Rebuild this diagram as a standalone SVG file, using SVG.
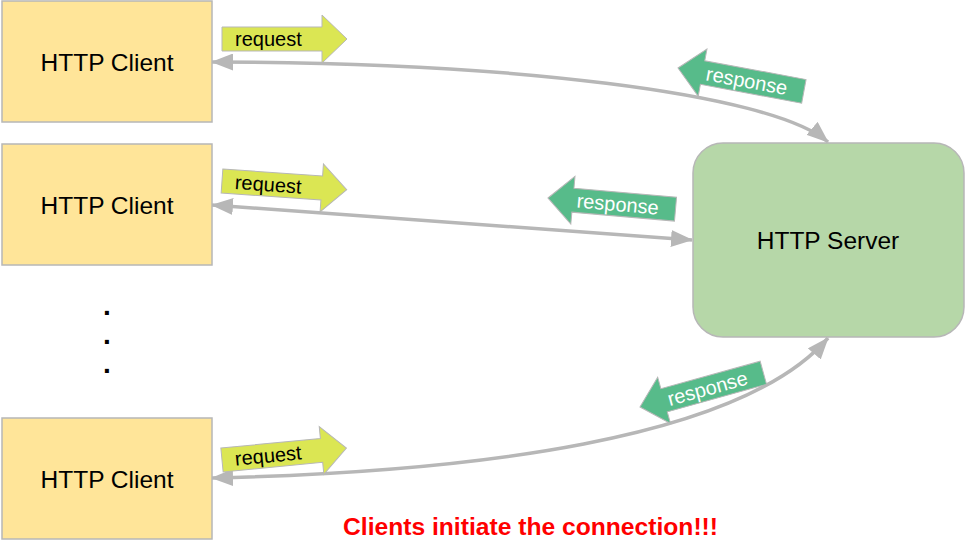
<svg xmlns="http://www.w3.org/2000/svg" width="965" height="541" viewBox="0 0 965 541">
  <defs>
    <style>
      .client { fill: #ffe599; stroke: #b7b7b7; stroke-width: 1.5; }
      .server { fill: #b6d7a8; stroke: #b7b7b7; stroke-width: 1.5; }
      .node-text { font-family: "Liberation Sans", Arial, sans-serif; font-size: 24.5px; fill: #000; text-anchor: middle; }
      .link { fill: none; stroke: #b7b7b7; stroke-width: 3.5; marker-start: url(#head); marker-end: url(#head); }
      .req { fill: #dbe653; stroke: #b7b7b7; stroke-width: 1; }
      .resp { fill: #57bb8a; stroke: #b7b7b7; stroke-width: 1; }
      .req-text { font-family: "Liberation Sans", Arial, sans-serif; font-size: 20px; fill: #000; }
      .resp-text { font-family: "Liberation Sans", Arial, sans-serif; font-size: 20px; fill: #fff; text-anchor: middle; }
      .dots { font-family: "Liberation Sans", Arial, sans-serif; font-size: 28px; font-weight: bold; fill: #000; text-anchor: middle; }
      .note { font-family: "Liberation Sans", Arial, sans-serif; font-size: 23px; font-weight: bold; fill: #ff0000; }
    </style>
    <marker id="head" viewBox="0 0 22 17" markerUnits="userSpaceOnUse" markerWidth="22" markerHeight="17" refX="21" refY="8.5" orient="auto-start-reverse">
      <path d="M0,0 L22,8.5 L0,17 z" fill="#b7b7b7"/>
    </marker>
    <!-- block arrow pointing right, origin at left-centre of the shaft -->
    <path id="arrow-right" d="M0,-12 L100,-12 L100,-24 L125,0 L100,24 L100,12 L0,12 Z"/>
    <!-- block arrow pointing left, origin at the tip -->
    <path id="arrow-left" d="M0,0 L25,-24 L25,-12 L128,-12 L128,12 L25,12 L25,24 Z"/>
  </defs>

  <rect width="965" height="541" fill="#ffffff"/>

  <!-- connectors -->
  <g id="connectors">
    <path class="link" d="M212,62 C500,62 770,92 828,142"/>
    <path class="link" d="M212,205 L692,240"/>
    <path class="link" d="M212,478 C470,472 740,440 828,338"/>
  </g>

  <!-- request / response labels on the connectors -->
  <g id="labels">
    <g transform="translate(222,39)">
      <use href="#arrow-right" class="req"/>
      <text class="req-text" x="13" y="7">request</text>
    </g>
    <g transform="translate(222,181) rotate(4)">
      <use href="#arrow-right" class="req"/>
      <text class="req-text" x="13" y="7">request</text>
    </g>
    <g transform="translate(222,460) rotate(-5.5)">
      <use href="#arrow-right" class="req"/>
      <text class="req-text" x="13" y="7">request</text>
    </g>
    <g transform="translate(678,68) rotate(10.5)">
      <use href="#arrow-left" class="resp"/>
      <text class="resp-text" x="70" y="7">response</text>
    </g>
    <g transform="translate(548,198) rotate(5)">
      <use href="#arrow-left" class="resp"/>
      <text class="resp-text" x="70" y="7">response</text>
    </g>
    <g transform="translate(640,407) rotate(-15.5)">
      <use href="#arrow-left" class="resp"/>
      <text class="resp-text" x="70" y="7">response</text>
    </g>
  </g>

  <!-- clients -->
  <g id="client1">
    <rect class="client" x="2" y="1" width="210" height="121"/>
    <text class="node-text" x="107" y="71">HTTP Client</text>
  </g>
  <g id="client2">
    <rect class="client" x="2" y="144" width="210" height="121"/>
    <text class="node-text" x="107" y="214">HTTP Client</text>
  </g>
  <g id="client3">
    <rect class="client" x="2" y="418" width="210" height="121"/>
    <text class="node-text" x="107" y="488">HTTP Client</text>
  </g>

  <!-- server -->
  <g id="server">
    <rect class="server" x="693" y="143" width="271" height="194" rx="30" ry="30"/>
    <text class="node-text" x="828" y="249">HTTP Server</text>
  </g>

  <!-- ellipsis between clients -->
  <g id="ellipsis">
    <text class="dots" x="107" y="315">.</text>
    <text class="dots" x="107" y="344">.</text>
    <text class="dots" x="107" y="373">.</text>
  </g>

  <text class="note" x="343" y="535" textLength="375" lengthAdjust="spacingAndGlyphs">Clients initiate the connection!!!</text>
</svg>
